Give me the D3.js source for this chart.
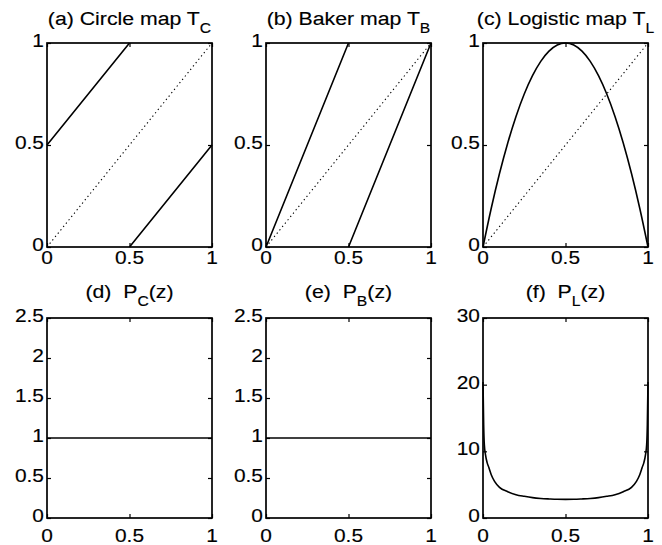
<!DOCTYPE html>
<html>
<head>
<meta charset="utf-8">
<script src="https://cdn.jsdelivr.net/npm/d3@7/dist/d3.min.js"></script>
<style>
  html, body { margin: 0; padding: 0; background: #fff; }
  svg { display: block; }
  text { font-family: "Liberation Sans", Arial, Helvetica, sans-serif; fill: #000; stroke: #000; stroke-width: 0.15; white-space: pre; }
</style>
</head>
<body>
<svg id="chart" width="662" height="545"></svg>
<script>
// ---------- data ----------
const unitTicks = [0, 0.5, 1];
const densityTicks = [0, 0.5, 1, 1.5, 2, 2.5];
const logisticDensityTicks = [0, 10, 20, 30];

const diagonalX = [0, 1];
const diagonalY = [0, 1];

const circleMapX = [0, 0.5, null, 0.5, 1];
const circleMapY = [0.5, 1, null, 0, 0.5];

const bakerMapX = [0, 0.5, null, 0.5, 1];
const bakerMapY = [0, 1, null, 0, 1];

const logisticMapX = [0, 0.05, 0.1, 0.15, 0.2, 0.25, 0.3, 0.35, 0.4, 0.45, 0.5, 0.55, 0.6, 0.65, 0.7, 0.75, 0.8, 0.85, 0.9, 0.95, 1];
const logisticMapY = [0, 0.19, 0.36, 0.51, 0.64, 0.75, 0.84, 0.91, 0.96, 0.99, 1, 0.99, 0.96, 0.91, 0.84, 0.75, 0.64, 0.51, 0.36, 0.19, 0];

const circleDensityX = [0, 1];
const circleDensityY = [1, 1];
const bakerDensityX = [0, 1];
const bakerDensityY = [1, 1];

const logisticDensityX = [0, 0.004, 0.008, 0.015, 0.025, 0.035, 0.05, 0.07, 0.1, 0.15, 0.2, 0.25, 0.3, 0.35, 0.4, 0.45, 0.5,
                          0.55, 0.6, 0.65, 0.7, 0.75, 0.8, 0.85, 0.9, 0.93, 0.95, 0.965, 0.975, 0.985, 0.992, 0.996, 1];
const logisticDensityY = [20.4, 14, 11, 9.5, 8.3, 7.6, 6.5, 5.5, 4.6, 3.95, 3.5, 3.25, 3.05, 2.93, 2.86, 2.81, 2.8,
                          2.81, 2.86, 2.93, 3.05, 3.25, 3.5, 3.95, 4.6, 5.5, 6.5, 7.6, 8.3, 9.5, 11, 14, 20.4];

// ---------- layout ----------
const svg = d3.select("#chart");
const colLeft = [47, 266, 483];
const panelW = 165;
const rows = [{top: 43, bottom: 247, titleY: 25, xLabelDy: 17},
              {top: 318, bottom: 518, titleY: 298, xLabelDy: 24}];
const SX = 1.1;    // horizontal stretch of the original font
const TSX = 1.12;

const panels = [
  {col: 0, row: 0, title: "(a) Circle map T", sub: "C", after: "", yDomain: [0, 1], yTicks: unitTicks,
   series: [{x: diagonalX, y: diagonalY, dotted: true}, {x: circleMapX, y: circleMapY}]},
  {col: 1, row: 0, title: "(b) Baker map T", sub: "B", after: "", yDomain: [0, 1], yTicks: unitTicks,
   series: [{x: diagonalX, y: diagonalY, dotted: true}, {x: bakerMapX, y: bakerMapY}]},
  {col: 2, row: 0, title: "(c) Logistic map T", sub: "L", after: "", yDomain: [0, 1], yTicks: unitTicks,
   series: [{x: diagonalX, y: diagonalY, dotted: true}, {x: logisticMapX, y: logisticMapY, smooth: true}]},
  {col: 0, row: 1, title: "(d)  P", sub: "C", after: "(z)", yDomain: [0, 2.5], yTicks: densityTicks,
   series: [{x: circleDensityX, y: circleDensityY}]},
  {col: 1, row: 1, title: "(e)  P", sub: "B", after: "(z)", yDomain: [0, 2.5], yTicks: densityTicks,
   series: [{x: bakerDensityX, y: bakerDensityY}]},
  {col: 2, row: 1, title: "(f)  P", sub: "L", after: "(z)", yDomain: [0, 30], yTicks: logisticDensityTicks,
   series: [{x: logisticDensityX, y: logisticDensityY, smooth: true}]}
];
const fmt = d3.format("~g");

panels.forEach(p => {
  const r = rows[p.row];
  const x0 = colLeft[p.col], x1 = x0 + panelW;
  const x = d3.scaleLinear().domain([0, 1]).range([x0, x1]);
  const y = d3.scaleLinear().domain(p.yDomain).range([r.bottom, r.top]);
  const g = svg.append("g");
  const tickLen = 4;

  p.series.forEach(s => {
    const pts = s.x.map((v, i) => ({x: v, y: s.y[i]}));
    const line = d3.line()
      .defined(d => d.x !== null && d.y !== null)
      .x(d => x(d.x)).y(d => y(d.y))
      .curve(s.smooth ? d3.curveMonotoneX : d3.curveLinear);
    g.append("path").datum(pts)
      .attr("d", line)
      .attr("fill", "none")
      .attr("stroke", "#000")
      .attr("stroke-width", s.dotted ? 1.1 : 1.6)
      .attr("stroke-dasharray", s.dotted ? "1.3,3" : null);
  });

  const axB = d3.axisBottom(x).tickValues(unitTicks).tickSize(-tickLen).tickFormat("");
  const axT = d3.axisTop(x).tickValues(unitTicks).tickSize(-tickLen).tickFormat("");
  const axL = d3.axisLeft(y).tickValues(p.yTicks).tickSize(-tickLen).tickFormat("");
  const axR = d3.axisRight(y).tickValues(p.yTicks).tickSize(-tickLen).tickFormat("");
  [[axB, `translate(0,${r.bottom})`], [axT, `translate(0,${r.top})`],
   [axL, `translate(${x0},0)`], [axR, `translate(${x1},0)`]].forEach(([ax, tr]) => {
    const a = g.append("g").attr("transform", tr).call(ax);
    a.select(".domain").remove();
    a.selectAll(".tick line").attr("stroke", "#000").attr("stroke-width", 1.2);
  });

  g.append("rect")
    .attr("x", x0).attr("y", r.top)
    .attr("width", x1 - x0).attr("height", r.bottom - r.top)
    .attr("fill", "none").attr("stroke", "#000").attr("stroke-width", 1.7);

  unitTicks.forEach(t => {
    g.append("text")
      .attr("transform", `translate(${x(t)},${r.bottom + r.xLabelDy}) scale(${SX},1)`)
      .attr("text-anchor", "middle")
      .attr("font-size", 19)
      .text(fmt(t));
  });
  p.yTicks.forEach(t => {
    g.append("text")
      .attr("transform", `translate(${x0 - 3},${y(t) + 4}) scale(${SX},1)`)
      .attr("text-anchor", "end")
      .attr("font-size", 19)
      .text(fmt(t));
  });

  const tt = g.append("text")
    .attr("transform", `translate(${(x0 + x1) / 2},${r.titleY}) scale(${TSX},1)`)
    .attr("text-anchor", "middle")
    .attr("font-size", 19);
  tt.append("tspan").text(p.title);
  tt.append("tspan").attr("font-size", 14).attr("dy", 8).text(p.sub);
  if (p.after) tt.append("tspan").attr("dy", -8).text(p.after);
});
</script>
</body>
</html>
